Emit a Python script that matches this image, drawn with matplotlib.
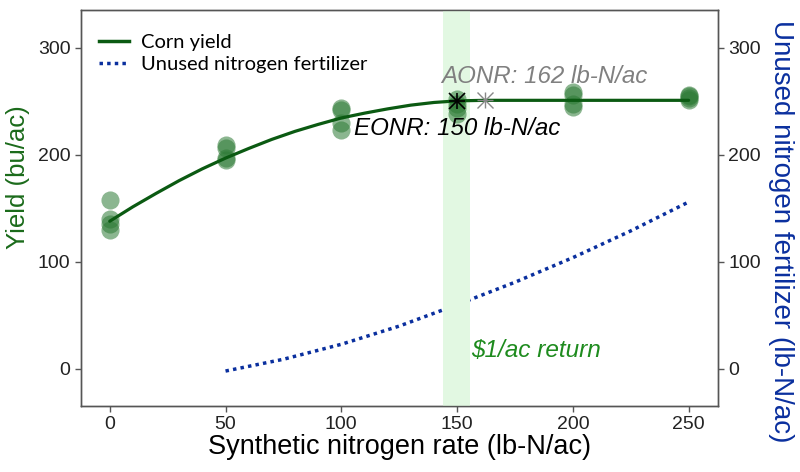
import matplotlib
matplotlib.use("Agg")
import matplotlib.pyplot as plt
from matplotlib.lines import Line2D

# ---- data ----
rates = [0, 50, 100, 150, 200, 250]
yield_obs = [
    [158, 140, 135, 130],
    [209, 206, 197, 195],
    [244, 242, 230, 223],
    [252, 248, 244, 238],
    [259, 256, 248, 245],
    [256, 255, 253, 251],
]
fit_x = [0, 10, 20, 30, 40, 50, 60, 70, 80, 90, 100, 110, 120, 130, 140, 150, 162, 250]
fit_y = [138, 151.5, 164, 176, 187, 197, 206, 214.5, 222, 228.5, 234.5, 239, 243, 246.5, 249, 250.5, 251, 251]
unused_x = [50, 75, 100, 125, 150, 175, 200, 225, 250]
unused_y = [-2, 9, 23, 40, 60, 81, 104, 129, 156]
eonr = 150
aonr = 162
eonr_yield = 250
aonr_yield = 251
band = [144, 155.5]
xticks = [0, 50, 100, 150, 200, 250]
yticks = [0, 100, 200, 300]

GREEN_LINE = "#0b5a12"
GREEN_PT = "#2d7a35"
BLUE = "#0a2f9e"
LABEL_GREEN = "#1b6b1b"

plt.rcParams['font.family'] = ['Liberation Sans', 'DejaVu Sans']

fig = plt.figure(figsize=(8, 4.72), dpi=100)
ax = fig.add_axes([0.101, 0.14, 0.796, 0.839])
ax2 = ax.twinx()

xlim = (-12.5, 262.5)
ylim = (-34.6, 335.5)

ax.axvspan(band[0], band[1], color="#e2f8e2", zorder=0, lw=0)

for x, ys in zip(rates, yield_obs):
    ax.scatter([x] * len(ys), ys, s=170, color=GREEN_PT, alpha=0.55, lw=0, zorder=2)

ax.plot(fit_x, fit_y, color=GREEN_LINE, lw=2.3, zorder=3, solid_capstyle='round')

for m in ['+', 'x']:
    ax.plot([eonr], [eonr_yield], marker=m, ms=11, mew=1.2, color="black", ls='none', zorder=4)
    ax.plot([aonr], [aonr_yield], marker=m, ms=11, mew=1.0, color="#888888", ls='none', zorder=4)

ax.text(187.5, 273, "AONR: 162 lb-N/ac", color="#808080", style='italic', fontsize=17.4,
        ha='center', va='center')
ax.text(150, 225, "EONR: 150 lb-N/ac", color="black", style='italic', fontsize=17.4,
        ha='center', va='center')
ax.text(156, 17, "$1/ac return", color="#1e8b1e", style='italic', fontsize=17.6,
        ha='left', va='center')

ax2.plot(unused_x, unused_y, color=BLUE, lw=2.5, ls=(0, (1, 1.2)), zorder=3)

for a in (ax, ax2):
    a.set_xlim(*xlim)
    a.set_ylim(*ylim)
    a.set_yticks(yticks)
    for s in a.spines.values():
        s.set_color("#555555")
        s.set_linewidth(1.0)
    a.tick_params(axis='both', colors="#555555", labelcolor="#222222", labelsize=14, length=4, width=1)

ax.set_xticks(xticks)
fig.text(0.5 * (0.101 + 0.897), 1 - 447 / 472, "Synthetic nitrogen rate (lb-N/ac)",
         fontsize=19.5, color="black", ha='center', va='center')
ax.set_ylabel("Yield (bu/ac)", fontsize=18.5, color=LABEL_GREEN)
ax.yaxis.set_label_coords(-0.098, 0.578)
ax.yaxis.label.set_va('center')
ax2.set_ylabel("Unused nitrogen fertilizer (lb-N/ac)", fontsize=20, color=BLUE, rotation=270)
ax2.yaxis.set_label_coords(1.1, 0.44)
ax2.yaxis.label.set_va('center')

ax2.set_zorder(ax.get_zorder() - 1)
ax.patch.set_visible(False)
ax2.patch.set_visible(True)
ax2.patch.set_facecolor("white")

handles = [Line2D([0], [0], color=GREEN_LINE, lw=2.5),
           Line2D([0], [0], color=BLUE, lw=2.5, ls=(0, (1, 1.2)))]
ax.legend(handles, ["Corn yield", "Unused nitrogen fertilizer"], loc='upper left',
          bbox_to_anchor=(0.0, 0.985), frameon=False, handlelength=1.5,
          handletextpad=0.6, labelspacing=0.25, prop={'family': ['Lato', 'DejaVu Sans'], 'size': 14.5})

fig.savefig("out.png", dpi=100)
